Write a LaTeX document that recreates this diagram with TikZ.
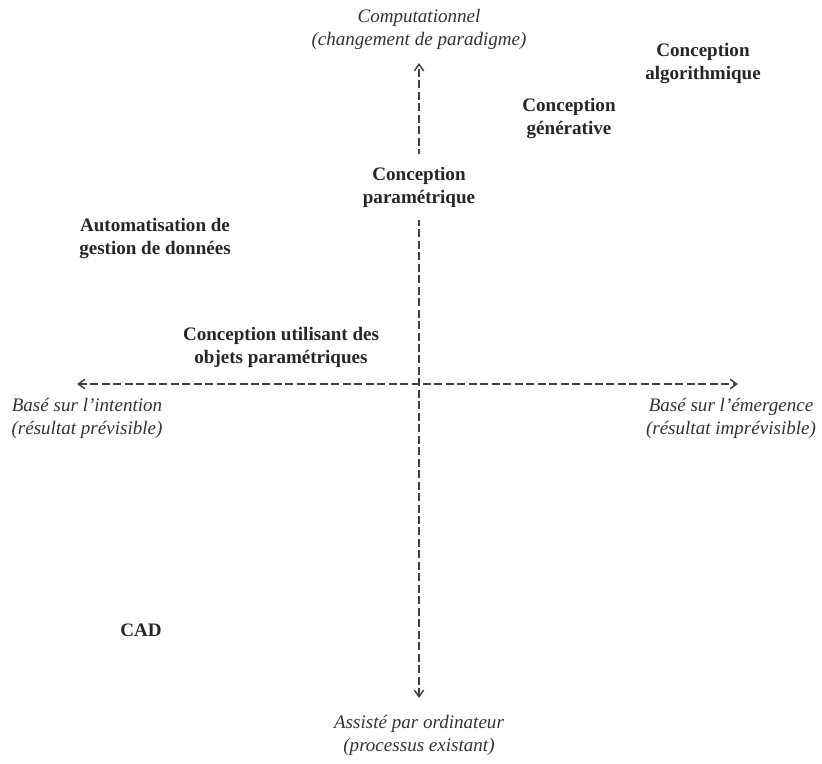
\documentclass[tikz,border=0pt]{standalone}
\usepackage{fontspec}
\setmainfont{Liberation Serif}
\usetikzlibrary{arrows.meta}

\begin{document}
\begin{tikzpicture}
            [x=0.75pt,y=-0.75pt,
            every node/.style={align=center,inner sep=0,font=\fontsize{14.3}{17.25}\selectfont},
            stage/.style={font=\fontsize{14.3}{17.25}\selectfont\bfseries,text=black!85},
            pole/.style={font=\fontsize{14.3}{17.25}\selectfont\itshape,text=black!80},
            axis/.style={line width=1.1pt,black!75,dash pattern=on 6pt off 2.6pt,
              {Straight Barb[length=5pt,width=7pt]}-{Straight Barb[length=5pt,width=7pt]}}]

            \useasboundingbox (0,0) rectangle (822,764);

            \coordinate (top) at (419,63);
            \coordinate (bottom) at (419,698);
            \coordinate (left) at (77,384);
            \coordinate (right) at (738,384);

            \draw[axis] (bottom) -- (top);
            \draw[axis] (left) -- (right);

            \node[pole] (comp) at (419,29) {Computationnel\\(changement de paradigme)};
            \node[pole] (assiste) at (419,735) {Assisté par ordinateur\\(processus existant)};
            \node[pole] (intention) at (87,418) {Basé sur l’intention\\(résultat prévisible)};
            \node[pole] (emergence) at (731,418) {Basé sur l’émergence\\(résultat imprévisible)};

            \node[stage] (algo) at (703,63) {Conception\\algorithmique};
            \node[stage] (gen) at (569,118) {Conception\\générative};
            \node[stage,fill=white,inner sep=10pt] (param) at (419,187) {Conception\\paramétrique};
            \node[stage] (auto) at (155,238) {Automatisation de\\gestion de données};
            \node[stage] (objets) at (281,347) {Conception utilisant des\\objets paramétriques};
            \node[stage] (cad) at (141,630) {CAD};
          \end{tikzpicture}
\end{document}
